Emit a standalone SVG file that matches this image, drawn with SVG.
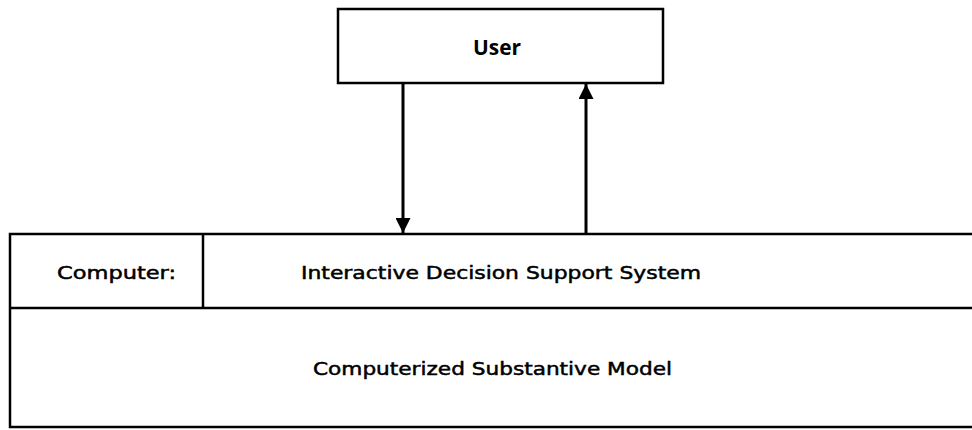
<svg xmlns="http://www.w3.org/2000/svg" width="972" height="430" viewBox="0 0 972 430">
  <style>
    .box { fill: #fff; stroke: #000; stroke-width: 2.5; }
    .ln { stroke: #000; stroke-width: 2.5; fill: none; }
    .lbl { font-family: "DejaVu Sans", "Liberation Sans", sans-serif; font-size: 18px; fill: #000; stroke: #000; stroke-width: 0.5; text-anchor: middle; }
    .head { font-family: "Open Sans", "DejaVu Sans", sans-serif; font-size: 22px; font-weight: 700; fill: #000; text-anchor: middle; }
    .conn { stroke: #000; stroke-width: 3; fill: none; }
  </style>
  <defs>
    <marker id="ah" viewBox="0 0 10 10" refX="10" refY="5" markerWidth="5" markerHeight="5" orient="auto" markerUnits="strokeWidth">
      <path d="M0,0 L10,5 L0,10 z" fill="#000"/>
    </marker>
  </defs>
  <rect width="972" height="430" fill="#fff"/>

  <g id="user">
    <rect class="box" x="338" y="9" width="325" height="74"/>
    <text class="head" x="497" y="55" textLength="48" lengthAdjust="spacingAndGlyphs">User</text>
  </g>

  <g id="computer">
    <path class="ln" d="M972,234 H10 V427 H972"/>
    <line class="ln" x1="203" y1="234" x2="203" y2="308"/>
    <text class="lbl" x="116.5" y="279" textLength="119" lengthAdjust="spacingAndGlyphs">Computer:</text>
  </g>

  <g id="idss">
    <line class="ln" x1="10" y1="308" x2="972" y2="308"/>
    <text class="lbl" x="501" y="279" textLength="400" lengthAdjust="spacingAndGlyphs">Interactive Decision Support System</text>
  </g>

  <g id="model">
    <text class="lbl" x="492.5" y="375" textLength="359" lengthAdjust="spacingAndGlyphs">Computerized Substantive Model</text>
  </g>

  <g id="connectors">
    <line class="conn" x1="403" y1="83" x2="403" y2="233" marker-end="url(#ah)"/>
    <line class="conn" x1="586" y1="233" x2="586" y2="84" marker-end="url(#ah)"/>
  </g>
</svg>
